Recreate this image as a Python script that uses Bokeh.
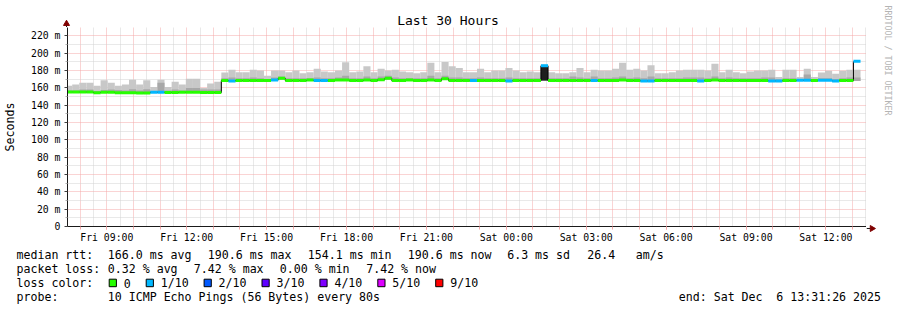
import math
from datetime import datetime, timedelta
from bokeh.plotting import figure
from bokeh.models import Range1d, FixedTicker
from bokeh.layouts import column, row
from bokeh.embed import file_html
from bokeh.resources import INLINE
from bokeh.core.properties import value

# ---------------- data ----------------
graph_start = datetime(2025, 12, 5, 7, 31, 26)
graph_end = datetime(2025, 12, 6, 13, 31, 26)
first_step = datetime(2025, 12, 5, 7, 26)
step_minutes = 16

median_ms = [
    155.2, 155.2, 155.2, 155.2, 154.4, 155.0, 155.0, 154.3, 154.3, 154.4, 154.2,
    154.1, 155.0, 155.0, 154.8, 154.8, 154.9, 154.9, 154.9, 154.7, 154.7, 154.7,
    168.5, 168.0, 168.5, 168.5, 168.5, 168.5, 168.5, 169.0, 171.0, 168.5,
    168.5, 168.5, 169.0, 168.5, 168.5, 168.5, 169.0, 169.0, 168.5, 168.5,
    169.0, 168.5, 169.5, 171.0, 168.5, 168.5, 169.0, 168.5, 168.5, 169.0,
    168.5, 170.5, 168.5, 168.5, 168.5, 168.5, 168.5, 168.5, 168.5, 168.5,
    168.0, 168.5, 168.5, 168.5, 168.5, 185.5, 168.5, 168.5, 168.5, 168.5,
    168.5, 168.5, 168.5, 168.5, 168.5, 168.5, 169.0, 168.5, 168.5, 168.0,
    168.0, 168.5, 168.5, 168.5, 168.5, 168.5, 168.5, 168.0, 168.5, 169.0,
    168.5, 168.5, 168.5, 168.5, 168.5, 168.5, 168.5, 168.0, 168.0, 168.4,
    168.4, 168.8, 168.8, 168.4, 168.8, 168.8, 168.0, 168.6, 168.6, 190.6,
]
loss_tenths = [
    0, 0, 0, 0, 0, 0, 0, 0, 0, 0, 0, 0, 1, 1, 0, 0, 0, 0, 0, 0, 0, 0,
    0, 1, 0, 0, 0, 0, 0, 1, 0, 0,
    0, 0, 0, 1, 1, 0, 0, 0, 0, 0,
    0, 0, 0, 0, 0, 0, 0, 0, 0, 0,
    0, 0, 0, 0, 0, 1, 0, 0, 0, 0,
    1, 0, 0, 0, 0, 1, 0, 0, 0, 0,
    0, 0, 1, 0, 0, 0, 0, 0, 0, 1,
    1, 0, 0, 0, 0, 0, 0, 1, 0, 0,
    0, 0, 0, 0, 0, 0, 0, 1, 1, 0,
    0, 1, 1, 0, 1, 1, 1, 0, 0, 1,
]
ping_lo = [
    154.6, 154.6, 154.5, 154.5, 153.8, 154.4, 154.4, 153.7, 153.7, 153.8, 153.6,
    153.5, 154.4, 154.4, 154.2, 154.2, 154.3, 154.3, 154.3, 154.1, 154.1, 154.1,
    167.8, 167.4, 167.8, 167.8, 167.8, 167.8, 167.8, 168.2, 169.5, 167.8,
    167.8, 167.8, 168.2, 167.8, 167.8, 167.8, 168.2, 168.2, 167.8, 167.8,
    168.2, 167.8, 168.6, 169.6, 167.8, 167.8, 168.2, 167.8, 167.8, 168.2,
    167.8, 169.4, 167.8, 167.8, 167.8, 167.8, 167.8, 167.8, 167.8, 167.8,
    167.4, 167.8, 167.8, 167.8, 167.8, 168.0, 167.8, 167.8, 167.8, 167.8,
    167.8, 167.8, 167.8, 167.8, 167.8, 167.8, 168.2, 167.8, 167.8, 167.4,
    167.4, 167.8, 167.8, 167.8, 167.8, 167.8, 167.8, 167.4, 167.8, 168.2,
    167.8, 167.8, 167.8, 167.8, 167.8, 167.8, 167.8, 167.4, 167.4, 167.7,
    167.7, 168.0, 168.0, 167.7, 168.0, 168.0, 167.4, 167.9, 167.9, 167.9,
]
core_hi = [
    157.0, 157.0, 158.0, 158.0, 156.5, 157.5, 158.0, 157.5, 157.0, 158.5, 157.0,
    158.5, 156.5, 166.0, 157.0, 158.0, 157.0, 160.0, 160.0, 158.0, 158.0, 158.0,
    171, 172, 171, 171, 172, 171, 170, 172, 173, 171,
    171, 171, 171, 172, 171, 171, 172, 174, 171, 171,
    173, 171, 173, 174, 172, 171, 171, 171, 171, 174,
    171, 174, 172, 172, 171, 171, 172, 171, 171, 171,
    172, 171, 171, 171, 171, 185, 171, 171, 171, 173,
    172, 171, 173, 171, 171, 172, 173, 171, 172, 171,
    173, 171, 171, 171, 171, 172, 172, 172, 171, 173,
    171, 172, 171, 171, 171, 171, 172, 172, 170, 171,
    171, 170, 175.5, 170, 171, 171, 170, 171, 172, 172,
]
ping_hi = [
    162.6, 163.8, 166.0, 166.0, 162.6, 168.7, 166.0, 162.6, 163.8, 169.5, 163.8,
    168.7, 161.0, 169.5, 161.0, 167.0, 163.8, 170.6, 170.6, 160.0, 165.0, 167.0,
    177.8, 181, 178, 178, 181, 180, 174, 180, 180, 178,
    180, 177, 178, 182, 179, 178, 180, 189.5, 178, 179,
    185, 178, 182, 180, 181, 179, 178, 177, 178, 189,
    178, 190, 185, 183, 178, 178, 182, 178, 180, 180,
    183, 180, 178, 179, 178, 187, 178, 177, 177, 178,
    183, 178, 181, 180, 180, 182, 189, 181, 182, 180,
    186, 177, 177, 178, 180, 181, 181, 181, 180, 188,
    178, 181, 178, 177, 179, 180, 180, 181, 172.6, 181,
    181, 172.6, 182, 172.6, 177.8, 179.8, 176.3, 179.8, 181, 181,
]
dense_block = [67]          # index into the arrays above
dense_lo = [168.6]
dense_hi = [185.0]

loss_colors = ["#26ff00", "#00b8ff", "#0059ff", "#5e00ff", "#7e00ff", "#dd00ff", "#ff0000"]
loss_labels = ["0", "1/10", "2/10", "3/10", "4/10", "5/10", "9/10"]

y_ticks = [0, 20, 40, 60, 80, 100, 120, 140, 160, 180, 200, 220]
y_minor = [10, 30, 50, 70, 90, 110, 130, 150, 170, 190, 210]
y_tick_labels = ["0", "20 m", "40 m", "60 m", "80 m", "100 m", "120 m", "140 m",
                 "160 m", "180 m", "200 m", "220 m"]
x_tick_times = [datetime(2025, 12, 5, 9), datetime(2025, 12, 5, 12), datetime(2025, 12, 5, 15),
                datetime(2025, 12, 5, 18), datetime(2025, 12, 5, 21), datetime(2025, 12, 6, 0),
                datetime(2025, 12, 6, 3), datetime(2025, 12, 6, 6), datetime(2025, 12, 6, 9),
                datetime(2025, 12, 6, 12)]
x_tick_labels = ["Fri 09:00", "Fri 12:00", "Fri 15:00", "Fri 18:00", "Fri 21:00",
                 "Sat 00:00", "Sat 03:00", "Sat 06:00", "Sat 09:00", "Sat 12:00"]

title_text = "Last 30 Hours"
y_title = "Seconds"
watermark = "RRDTOOL / TOBI OETIKER"
stats_rtt = ["median rtt:", "166.0 ms avg", "190.6 ms max", "154.1 ms min",
             "190.6 ms now", "6.3 ms sd", "26.4", "am/s"]
stats_loss = ["packet loss:", "0.32 % avg", "7.42 % max", "0.00 % min", "7.42 % now"]
probe_text = ["probe:", "10 ICMP Echo Pings (56 Bytes) every 80s"]
end_text = ["end: Sat Dec", "6 13:31:26 2025"]

# ---------------- helpers ----------------
EPOCH = datetime(1970, 1, 1)


def ms(dt):
    return (dt - EPOCH).total_seconds() * 1000.0


n = len(median_ms)
starts = [ms(first_step + timedelta(minutes=step_minutes * i)) for i in range(n)]
ends = [ms(first_step + timedelta(minutes=step_minutes * (i + 1))) for i in range(n)]
med_colors = [loss_colors[l] for l in loss_tenths]

FONT = value("DejaVu Sans Mono")
RED_GRID = "#f4a8a8"
GREY_GRID = "#d2d2d2"
AXIS = "#1a1a1a"
ARROW = "#7f0000"


def pixel_fig(w, h, x0, x1, ytop, ybot):
    f = figure(width=w, height=h, output_backend="svg", toolbar_location=None,
               x_range=Range1d(x0, x1), y_range=Range1d(ybot, ytop),
               x_axis_location=None, y_axis_location=None, title=None,
               min_border_left=0, min_border_right=0, min_border_top=0,
               min_border_bottom=0)
    f.outline_line_color = None
    f.grid.visible = False
    f.frame_align = False
    return f


# ---------------- main graph ----------------
p = figure(width=866, height=218, output_backend="svg", toolbar_location=None, title=None,
           x_range=Range1d(ms(graph_start), ms(graph_end)), y_range=Range1d(0, 229.7),
           min_border_left=66, min_border_right=0, min_border_top=0, min_border_bottom=17)
p.frame_align = False
p.outline_line_color = None
p.background_fill_color = "white"
p.border_fill_color = "white"

hourly = [ms(datetime(2025, 12, 5, 8) + timedelta(hours=h)) for h in range(30)]
halfhourly = [ms(datetime(2025, 12, 5, 7, 30) + timedelta(hours=h)) for h in range(31)]
p.xgrid.ticker = FixedTicker(ticks=hourly, minor_ticks=halfhourly)
p.ygrid.ticker = FixedTicker(ticks=y_ticks, minor_ticks=y_minor)
for g in (p.xgrid[0], p.ygrid[0]):
    g.grid_line_color = RED_GRID
    g.grid_line_dash = "1 1"
    g.grid_line_width = 1
    g.minor_grid_line_color = GREY_GRID
    g.minor_grid_line_dash = "1 1"
    g.minor_grid_line_width = 1

xa = p.xaxis[0]
xa.ticker = FixedTicker(ticks=[ms(t) for t in x_tick_times], minor_ticks=hourly)
xa.major_label_overrides = {ms(t): lab for t, lab in zip(x_tick_times, x_tick_labels)}
xa.axis_line_color = AXIS
xa.major_tick_line_color = RED_GRID
xa.minor_tick_line_color = RED_GRID
xa.major_tick_out = 3
xa.major_tick_in = 0
xa.minor_tick_out = 3
xa.minor_tick_in = 0
xa.major_label_standoff = 2
xa.major_label_text_font = "DejaVu Sans Mono"
xa.major_label_text_font_size = "9.8px"
xa.major_label_text_color = "#000000"

ya = p.yaxis[0]
ya.ticker = FixedTicker(ticks=y_ticks, minor_ticks=y_minor)
ya.major_label_overrides = {t: lab for t, lab in zip(y_ticks, y_tick_labels)}
ya.axis_line_color = AXIS
ya.major_tick_line_color = "#404040"
ya.minor_tick_line_color = "#b0b0b0"
ya.major_tick_out = 3
ya.major_tick_in = 0
ya.minor_tick_out = 2
ya.minor_tick_in = 0
ya.major_label_standoff = 4
ya.major_label_text_font = "DejaVu Sans Mono"
ya.major_label_text_font_size = "9.8px"
ya.major_label_text_color = "#000000"
ya.axis_label = y_title
ya.axis_label_text_font = "DejaVu Sans Mono"
ya.axis_label_text_font_size = "11.6px"
ya.axis_label_text_font_style = "normal"
ya.axis_label_text_color = "#000000"
ya.axis_label_standoff = 11

# smoke
p.quad(left=starts, right=ends, bottom=ping_lo, top=ping_hi,
       fill_color="#c8c8c8", line_color=None)
p.quad(left=starts, right=ends, bottom=ping_lo, top=core_hi,
       fill_color="#a8a8a8", line_color=None)
p.quad(left=[starts[i] for i in dense_block], right=[ends[i] for i in dense_block],
       bottom=dense_lo, top=dense_hi, fill_color="#1e1e1e", line_color=None)

# median
p.step(x=starts, y=median_ms, mode="after", line_color="black", line_width=1)
p.segment(x0=starts, x1=ends, y0=median_ms, y1=median_ms,
          line_color=med_colors, line_width=3)

# ---------------- top strip: title + y arrow ----------------
top = pixel_fig(866, 27, 0, 866, 0, 27)
top.text(x=[447.5], y=[20], text=[title_text], text_font=FONT, text_font_size="13px",
         text_align="center", text_baseline="middle", text_color="black")
top.segment(x0=[66], y0=[24], x1=[66], y1=[27], line_color=AXIS, line_width=1)
top.scatter(x=[66], y=[23.2], marker="triangle", size=6, fill_color=ARROW,
            line_color=ARROW)

# ---------------- right strip: watermark + x arrow ----------------
right = pixel_fig(31, 245, 866, 897, 0, 245)
right.text(x=[887.5], y=[60], text=[watermark], text_font=FONT, text_font_size="8.3px",
           text_align="center", text_baseline="middle", angle=-math.pi / 2,
           text_color="#b4b4b4")
right.segment(x0=[866], y0=[228], x1=[870], y1=[228], line_color=AXIS, line_width=1)
right.scatter(x=[871.5], y=[228], marker="triangle", angle=-math.pi / 2, size=6,
              fill_color=ARROW, line_color=ARROW)

# ---------------- legend strip ----------------
q = pixel_fig(897, 65, 0, 897, 245, 310)
row_y = [254.2, 268.4, 282.6, 296.8]
rtt_x = [16, 107.3, 207.3, 307.3, 407.3, 506.7, 586.7, 635.3]
loss_x = [16, 107.3, 193.3, 279.3, 365.7]
TXT = dict(text_font=FONT, text_font_size="11.6px", text_baseline="middle",
           text_color="black")
q.text(x=rtt_x, y=[row_y[0]] * len(rtt_x), text=stats_rtt, **TXT)
q.text(x=loss_x, y=[row_y[1]] * len(loss_x), text=stats_loss, **TXT)
q.text(x=[16], y=[row_y[2]], text=["loss color:"], **TXT)
q.text(x=[16, 107.3], y=[row_y[3]] * 2, text=probe_text, **TXT)
q.text(x=[678.3], y=[row_y[3]], text=[end_text[0]], **TXT)
q.text(x=[880.5], y=[row_y[3]], text=[end_text[1]], text_align="right", **TXT)

sq_left = [108.7] + [145.7 + 57.9 * i for i in range(len(loss_colors) - 1)]
q.quad(left=sq_left, right=[v + 7.2 for v in sq_left], top=[278.7] * len(sq_left),
       bottom=[286.2] * len(sq_left), fill_color=loss_colors, line_color="black",
       line_width=1)
q.text(x=[v + 14.5 for v in sq_left], y=[row_y[2]] * len(sq_left), text=loss_labels, **TXT)

layout = column(row(column(top, p, spacing=0), right, spacing=0), q, spacing=0)
open("out.html", "w").write(file_html(layout, INLINE))
